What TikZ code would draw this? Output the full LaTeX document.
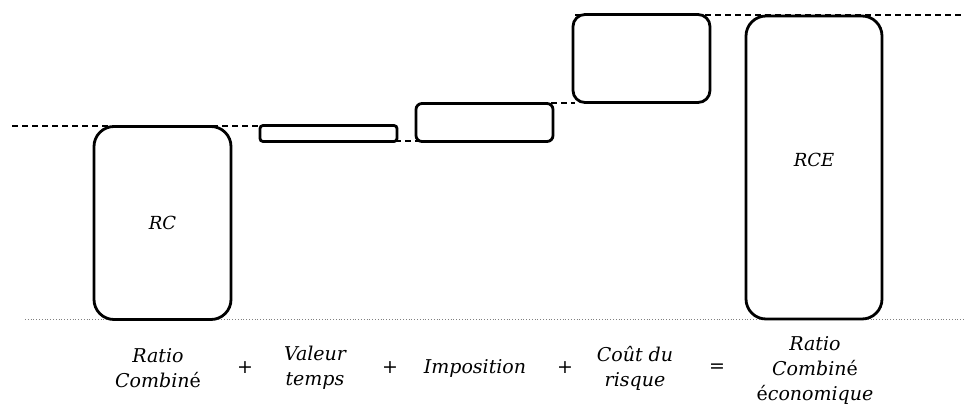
\documentclass[tikz,border=0pt]{standalone}
\usepackage{fontspec}
\setmainfont{DejaVu Serif}
\begin{document}
\begin{tikzpicture}[x=1pt,y=-1pt,
  box/.style={draw,line width=2.8pt,rounded corners=#1,inner sep=0pt,outer sep=0pt,fill=white},
  guide/.style={line width=1.4pt,dash pattern=on 6pt off 4pt},
  lbl/.style={font=\fontsize{19}{25}\selectfont\itshape,align=center},
  op/.style={font=\fontsize{19}{25}\selectfont},
  inlbl/.style={font=\fontsize{18}{22}\selectfont\itshape}]
\useasboundingbox (0,0) rectangle (964,407);
% baseline
\draw[gray,line width=0.8pt,dotted] (25,319.5) -- (964,319.5);
% guide lines
\coordinate (g1a) at (12,126);
\coordinate (g1b) at (262,126);
\coordinate (g2a) at (395,141);
\coordinate (g2b) at (418,141);
\coordinate (g3a) at (551,103);
\coordinate (g3b) at (575,103);
\coordinate (g4a) at (575,15);
\coordinate (g4b) at (964,15);
\draw[guide] (g1a) -- (g1b);
\draw[guide] (g2a) -- (g2b);
\draw[guide] (g3a) -- (g3b);
% boxes
\node[box=20pt,minimum width=137pt,minimum height=193pt,inlbl] (rc) at (162.5,223) {RC};
\node[box=3pt,minimum width=137pt,minimum height=16pt] (vt) at (328.5,133.5) {};
\node[box=6pt,minimum width=137pt,minimum height=38pt] (imp) at (484.5,122.5) {};
\node[box=12pt,minimum width=137pt,minimum height=88pt] (cr) at (641.5,58.5) {};
\node[box=20pt,minimum width=136pt,minimum height=303pt] (rce) at (814,167.5) {};
\node[inlbl] (rcet) at (814,160) {RCE};
\draw[guide] (g4a) -- (g4b);
% labels
\node[lbl] (l1) at (158,368) {Ratio\\Combin\textup{é}};
\node[op] (p1) at (245,368) {+};
\node[lbl] (l2) at (315,368) {Valeur\\temps};
\node[op] (p2) at (390,368) {+};
\node[lbl] (l3) at (475,368) {Imposition};
\node[op] (p3) at (565,368) {+};
\node[lbl] (l4) at (635,368) {Coût du\\risque};
\node[op] (eq) at (717,368) {=};
\node[lbl] (l5) at (815,370) {Ratio\\Combin\textup{é}\\\textup{é}conomique};
\end{tikzpicture}
\end{document}
